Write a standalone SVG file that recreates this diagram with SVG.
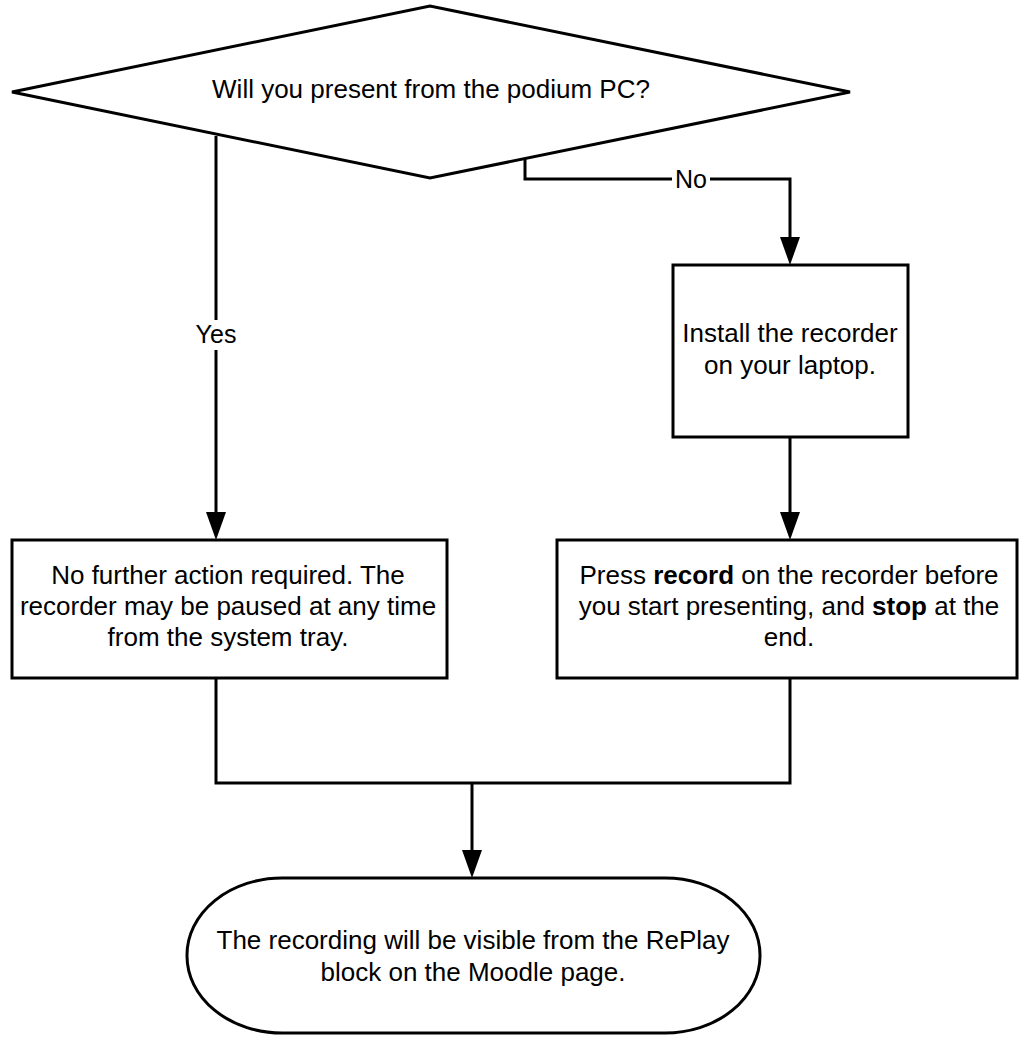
<svg xmlns="http://www.w3.org/2000/svg" width="1021" height="1041" viewBox="0 0 1021 1041">
<style>
.s{fill:#fff;stroke:#000;stroke-width:3}
.c{fill:none;stroke:#000;stroke-width:3}
.t{font-family:"Liberation Sans",Arial,sans-serif;font-size:26px;fill:#000;text-anchor:middle}
.lb{font-family:"Liberation Sans",Arial,sans-serif;font-size:25px;fill:#000;text-anchor:middle}
.ah{fill:#000}
</style>
<rect width="1021" height="1041" fill="#fff"/>
<g id="connectors">
<path class="c" d="M216,136 V512"/>
<path class="c" d="M525,158 V179 H790 V237"/>
<path class="c" d="M790,437 V512"/>
<path class="c" d="M216,678 V783 H790 V678"/>
<path class="c" d="M472,783 V850"/>
<path class="ah" d="M206,512 L226,512 L216,540 Z"/>
<path class="ah" d="M780,237 L800,237 L790,265 Z"/>
<path class="ah" d="M780,512 L800,512 L790,540 Z"/>
<path class="ah" d="M462,850 L482,850 L472,878 Z"/>
<rect x="193" y="320" width="46" height="30" fill="#fff"/>
<text class="lb" x="216" y="343">Yes</text>
<rect x="672" y="165" width="38" height="28" fill="#fff"/>
<text class="lb" x="691" y="188">No</text>
</g>
<g id="decision">
<polygon class="s" points="12,92 430,6 850,92 430,178"/>
<text class="t" x="431" y="98">Will you present from the podium PC?</text>
</g>
<g id="install">
<rect class="s" x="673" y="265" width="235" height="172"/>
<text class="t" x="790" y="342">Install the recorder</text>
<text class="t" x="790" y="374">on your laptop.</text>
</g>
<g id="no-action">
<rect class="s" x="12" y="540" width="435" height="138"/>
<text class="t" x="228" y="584">No further action required. The</text>
<text class="t" x="228" y="615">recorder may be paused at any time</text>
<text class="t" x="228" y="646">from the system tray.</text>
</g>
<g id="press-record">
<rect class="s" x="557" y="540" width="460" height="138"/>
<text class="t" x="789" y="584">Press <tspan font-weight="bold">record</tspan> on the recorder before</text>
<text class="t" x="789" y="615">you start presenting, and <tspan font-weight="bold">stop</tspan> at the</text>
<text class="t" x="789" y="646">end.</text>
</g>
<g id="end">
<rect class="s" x="187" y="878" width="573" height="155" rx="95" ry="77"/>
<text class="t" x="473" y="949">The recording will be visible from the RePlay</text>
<text class="t" x="473" y="981">block on the Moodle page.</text>
</g>
</svg>
